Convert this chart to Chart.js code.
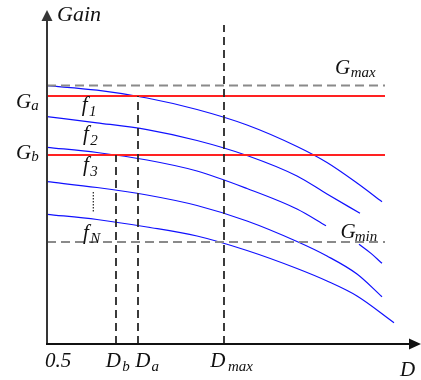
<!DOCTYPE html>
<html>
<head>
<meta charset="utf-8">
<script src="https://cdn.jsdelivr.net/npm/chart.js@4/dist/chart.umd.min.js"></script>
<style>
  html, body { margin: 0; padding: 0; background: #fff; overflow: hidden; }
  canvas { display: block; }
</style>
</head>
<body>
<canvas id="c" width="421" height="380"></canvas>
<script>
// Gain versus distance D for the frequency curves f1 ... fN (schematic units)
const D_MIN = 0.5;
const D_AXIS_END = 4.24;
const GAIN_AXIS_END = 33.4;

const f1D    = [0.5, 1.0, 1.5, 2.0, 2.5, 3.0, 3.3, 3.6, 3.85];
const f1Gain = [25.83, 25.38, 24.6, 23.45, 21.9, 19.75, 18.15, 16.1, 14.23];

const f2D    = [0.5, 1.0, 1.5, 2.0, 2.5, 3.0, 3.3, 3.63];
const f2Gain = [22.73, 22.12, 21.44, 20.35, 18.85, 16.8, 15.0, 13.07];

// f3 is interrupted where the G_min label sits
const f3D    = [0.5, 1.0, 1.5, 2.0, 2.5, 3.0, 3.29, 3.45, 3.62, 3.74, 3.85];
const f3Gain = [19.67, 19.15, 18.4, 17.3, 15.55, 13.5, 11.83, null, 9.97, 9.06, 8.07];

const f4D    = [0.5, 1.0, 1.5, 2.0, 2.5, 3.0, 3.3, 3.6, 3.85];
const f4Gain = [16.23, 15.65, 14.9, 13.85, 12.3, 10.25, 8.8, 7.0, 4.73];

const fND    = [0.5, 1.0, 1.5, 2.0, 2.5, 3.0, 3.3, 3.6, 3.97];
const fNGain = [12.97, 12.45, 11.7, 10.8, 9.35, 7.55, 6.3, 4.8, 2.13];

// Gain thresholds and distance markers
const G_MAX = 25.85, G_A = 24.8, G_B = 18.9, G_MIN = 10.2;
const D_B = 1.19, D_A = 1.41, D_MAX = 2.27;
const LEVEL_END = 3.88;     // right end of the horizontal level lines
const D_MAX_TOP = 31.9;     // top of the D_max marker

const pts = (ds, gs) => ds.map((d, i) => ({ x: d, y: gs[i] }));
const seg = (x1, y1, x2, y2) => [{ x: x1, y: y1 }, { x: x2, y: y2 }];

const BLUE = '#1010ff', RED = '#ff2222', GREY = '#8a8a8a', DARK = '#262626';

const refLine = (data, color, width, dash) => ({
  data, borderColor: color, borderWidth: width, borderDash: dash,
  pointRadius: 0, tension: 0, fill: false
});
const curve = (data) => ({
  data, borderColor: BLUE, borderWidth: 1.2, pointRadius: 0,
  cubicInterpolationMode: 'monotone', fill: false, spanGaps: false
});

const datasets = [
  refLine(seg(D_B, 0, D_B, G_B), DARK, 1.8, [8, 5]),
  refLine(seg(D_A, 0, D_A, G_A), DARK, 1.8, [8, 5]),
  refLine(seg(D_MAX, 0, D_MAX, D_MAX_TOP), DARK, 1.8, [8, 5]),
  refLine(seg(D_MIN, G_A, LEVEL_END, G_A), RED, 2, []),
  refLine(seg(D_MIN, G_B, LEVEL_END, G_B), RED, 2, []),
  refLine(seg(D_MIN, G_MAX, LEVEL_END, G_MAX), GREY, 1.8, [9, 5]),
  refLine(seg(D_MIN, G_MIN, LEVEL_END, G_MIN), GREY, 1.8, [9, 5]),
  curve(pts(f1D, f1Gain)),
  curve(pts(f2D, f2Gain)),
  curve(pts(f3D, f3Gain)),
  curve(pts(f4D, f4Gain)),
  curve(pts(fND, fNGain))
];

const SERIF = '"Liberation Serif", "Times New Roman", serif';

// main symbol with an optional italic subscript
function sym(ctx, main, sub, px, py, gap = 0, drop = 3, size = 21, subSize = 15) {
  ctx.font = `italic ${size}px ${SERIF}`;
  ctx.fillText(main, px, py);
  if (sub) {
    const w = ctx.measureText(main).width;
    ctx.font = `italic ${subSize}px ${SERIF}`;
    ctx.fillText(sub, px + w + gap, py + drop);
  }
}

const axesAndLabels = {
  id: 'axesAndLabels',
  afterDatasetsDraw(chart) {
    const { ctx, chartArea: a, scales: { x, y } } = chart;
    const x0 = x.getPixelForValue(D_MIN);
    const y0 = y.getPixelForValue(0);
    const xp = v => x.getPixelForValue(v);
    const yp = v => y.getPixelForValue(v);
    ctx.save();

    // vertical axis with arrow
    ctx.strokeStyle = '#363636';
    ctx.fillStyle = '#363636';
    ctx.lineWidth = 2;
    ctx.setLineDash([]);
    ctx.beginPath();
    ctx.moveTo(x0, y0 + 1);
    ctx.lineTo(x0, a.top + 9);
    ctx.stroke();
    ctx.beginPath();
    ctx.moveTo(x0, a.top);
    ctx.lineTo(x0 - 5.5, a.top + 11);
    ctx.lineTo(x0 + 5.5, a.top + 11);
    ctx.closePath();
    ctx.fill();

    // horizontal axis with arrow
    ctx.strokeStyle = '#111';
    ctx.fillStyle = '#111';
    ctx.beginPath();
    ctx.moveTo(x0 - 1, y0);
    ctx.lineTo(a.right - 10, y0);
    ctx.stroke();
    ctx.beginPath();
    ctx.moveTo(a.right, y0);
    ctx.lineTo(a.right - 12, y0 - 5.5);
    ctx.lineTo(a.right - 12, y0 + 5.5);
    ctx.closePath();
    ctx.fill();

    // dotted ellipsis between f3 and fN
    ctx.strokeStyle = '#222';
    ctx.lineWidth = 1.2;
    ctx.setLineDash([1.5, 1.5]);
    ctx.beginPath();
    ctx.moveTo(x0 + 46.3, yp(15.2));
    ctx.lineTo(x0 + 46.3, yp(13.2));
    ctx.stroke();
    ctx.setLineDash([]);

    // text
    ctx.fillStyle = '#111';
    ctx.textBaseline = 'alphabetic';
    ctx.textAlign = 'left';

    sym(ctx, 'Gain', null, x0 + 10, a.top + 11, 0, 0, 22);

    sym(ctx, 'G', 'a', x0 - 31, yp(G_A) + 11.7, 0, 2.5);
    sym(ctx, 'G', 'b', x0 - 31, yp(G_B) + 4, 0, 1.5);
    sym(ctx, 'G', 'max', xp(LEVEL_END) - 50, yp(G_MAX) - 11.5, 0.5, 2.5);
    sym(ctx, 'G', 'min', xp(LEVEL_END) - 44.5, yp(G_MIN) - 4, -1, 3);

    sym(ctx, 'f', '1', x0 + 34.7, yp(23.3), 1.5, 5);
    sym(ctx, 'f', '2', x0 + 36, yp(20.4), 1.5, 5);
    sym(ctx, 'f', '3', x0 + 36, yp(17.3), 1.5, 5);
    sym(ctx, 'f', 'N', x0 + 36, yp(10.5), 1.5, 4);

    sym(ctx, '0.5', null, x0 - 2, y0 + 23);
    sym(ctx, 'D', 'b', xp(D_B) - 10.3, y0 + 23, 1.5, 4);
    sym(ctx, 'D', 'a', xp(D_A) - 2.7, y0 + 23, 1, 4);
    sym(ctx, 'D', 'max', xp(D_MAX) - 13.7, y0 + 23, 2.5, 4);
    sym(ctx, 'D', null, a.right - 21, y0 + 32);

    ctx.restore();
  }
};

new Chart(document.getElementById('c'), {
  type: 'line',
  data: { datasets },
  options: {
    responsive: false,
    animation: false,
    devicePixelRatio: 1,
    layout: { padding: { left: 47, right: 0, top: 10, bottom: 36 } },
    plugins: { legend: { display: false }, tooltip: { enabled: false } },
    events: [],
    scales: {
      x: { type: 'linear', min: D_MIN, max: D_AXIS_END, display: false },
      y: { type: 'linear', min: 0, max: GAIN_AXIS_END, display: false }
    }
  },
  plugins: [axesAndLabels]
});
</script>
</body>
</html>
